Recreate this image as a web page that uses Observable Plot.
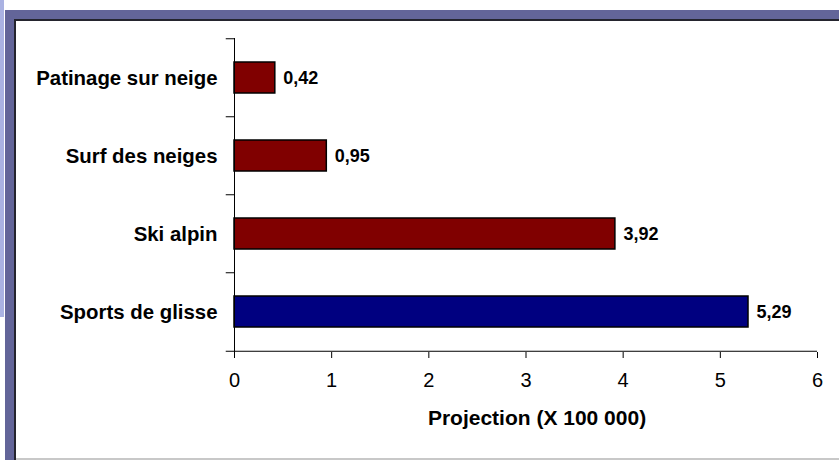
<!DOCTYPE html>
<html>
<head>
<meta charset="utf-8">
<script src="https://cdn.jsdelivr.net/npm/d3@7"></script>
<script src="https://cdn.jsdelivr.net/npm/@observablehq/plot@0.6"></script>
<style>
  html, body { margin: 0; padding: 0; background: #fff; }
  #wrap { position: relative; width: 839px; height: 460px; overflow: hidden; background: #fff; font-family: Arial, "Liberation Sans", sans-serif; }
  .deco { position: absolute; }
  #chart { position: absolute; left: 0; top: 0; }
  #chart svg [aria-label="x-axis tick label"] { font-size: 20px; }
  #chart svg [aria-label="y-axis tick label"] { font-size: 20.4px; font-weight: bold; }
</style>
</head>
<body>
<div id="wrap">
  <div class="deco" style="left:0;top:0;width:4px;height:317px;background:#aab2e2"></div>
  <div class="deco" style="left:5px;top:10px;width:834px;height:9px;background:#636599"></div>
  <div class="deco" style="left:5px;top:10px;width:9px;height:450px;background:#636599"></div>
  <div class="deco" style="left:14px;top:19px;width:825px;height:2px;background:#24242e"></div>
  <div class="deco" style="left:14px;top:19px;width:2px;height:441px;background:#24242e"></div>
  <div class="deco" style="left:16px;top:458px;width:823px;height:2px;background:#c8c8c8"></div>
  <div id="chart"></div>
</div>
<script>
const categories = ["Patinage sur neige", "Surf des neiges", "Ski alpin", "Sports de glisse"];
const values = [0.42, 0.95, 3.92, 5.29];
const labels = ["0,42", "0,95", "3,92", "5,29"];
const colors = ["#800000", "#800000", "#800000", "#000080"];
const xTicks = [0, 1, 2, 3, 4, 5, 6];
const xTitle = "Projection (X 100 000)";

const data = categories.map((c, i) => ({cat: c, value: values[i], label: labels[i], color: colors[i]}));

const W = 839, H = 460;
const mTop = 38, mBottom = 108, mLeft = 234, mRight = 22;
const step = (H - mTop - mBottom) / categories.length;

const chart = Plot.plot({
  width: W,
  height: H,
  marginTop: mTop,
  marginBottom: mBottom,
  marginLeft: mLeft,
  marginRight: mRight,
  style: { fontFamily: "Arial, 'Liberation Sans', sans-serif", background: "transparent", color: "#000" },
  x: { domain: [0, 6] },
  y: { domain: categories, paddingInner: 0.6, paddingOuter: 0.3 },
  marks: [
    Plot.barX(data, { y: "cat", x: "value", fill: d => d.color, stroke: "#000", strokeWidth: 1.5 }),
    Plot.text(data, { y: "cat", x: "value", text: "label", textAnchor: "start", dx: 8, fontWeight: "bold", fontSize: 18, fill: "#000" }),
    Plot.ruleX([0], { stroke: "#000", strokeWidth: 1 }),
    Plot.ruleY(categories, { y: d => d, x1: -0.085, x2: 0, dy: -step / 2, stroke: "#000" }),
    Plot.ruleY([categories[categories.length - 1]], { y: d => d, x1: -0.085, x2: 0, dy: step / 2, stroke: "#000" }),
    Plot.ruleY([categories[categories.length - 1]], { y: d => d, x1: 0, x2: 6, dy: step / 2, stroke: "#000" }),
    Plot.axisX({ ticks: xTicks, tickSize: 6, tickPadding: 14, fontSize: 20, tickFormat: d => String(d), label: null }),
    Plot.text([xTitle], { frameAnchor: "bottom", text: d => d, dx: 11, dy: 66, lineAnchor: "middle", fontWeight: "bold", fontSize: 21, fill: "#000" }),
    Plot.axisY({ tickSize: 0, tickPadding: 17, fontSize: 20, fontWeight: "bold", label: null })
  ]
});
document.getElementById("chart").appendChild(chart);
</script>
</body>
</html>
